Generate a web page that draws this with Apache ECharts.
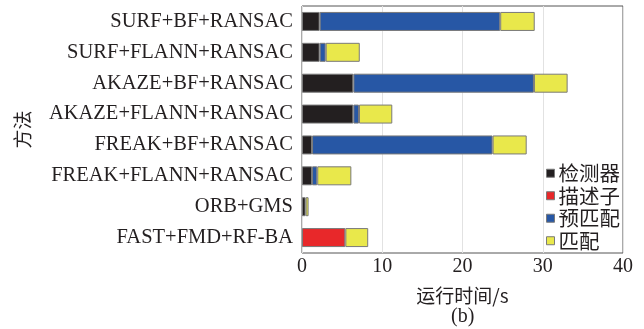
<!DOCTYPE html>
<html>
<head>
<meta charset="utf-8">
<script src="https://cdn.jsdelivr.net/npm/echarts@6/dist/echarts.min.js"></script>
<style>
html,body{margin:0;padding:0;background:#fff;}
#chart{width:644px;height:329px;}
</style>
</head>
<body>
<div id="chart"></div>
<script>
// Methods, top to bottom
const methods = [
  'SURF+BF+RANSAC',
  'SURF+FLANN+RANSAC',
  'AKAZE+BF+RANSAC',
  'AKAZE+FLANN+RANSAC',
  'FREAK+BF+RANSAC',
  'FREAK+FLANN+RANSAC',
  'ORB+GMS',
  'FAST+FMD+RF-BA'
];
// Stage run times (s)
const detector   = [2.2, 2.2, 6.4, 6.4, 1.25, 1.25, 0.45, 0];
const descriptor = [0, 0, 0, 0, 0, 0, 0, 5.4];
const prematch   = [22.5, 0.75, 22.5, 0.7, 22.5, 0.65, 0, 0];
const matching   = [4.3, 4.25, 4.2, 4.15, 4.25, 4.25, 0.37, 2.85];

const seriesNames = ['检测器', '描述子', '预匹配', '匹配'];
const seriesColors = ['#231f20', '#e8282a', '#2757a5', '#e9e84b'];
const xTicks = [0, 10, 20, 30, 40];

const serif = '"Liberation Serif", "Times New Roman", serif';
const cjk = '"Noto Sans CJK SC", sans-serif';
const textColor = '#231f20';

const chart = echarts.init(document.getElementById('chart'));
const stageData = [detector, descriptor, prematch, matching];

chart.setOption({
  animation: false,
  grid: {
    left: 302, right: 21, top: 6, bottom: 76,
    show: true, borderColor: '#555', borderWidth: 1, backgroundColor: 'transparent'
  },
  legend: {
    orient: 'vertical',
    left: 541, top: 158,
    itemWidth: 8, itemHeight: 8, itemGap: 2,
    icon: 'rect',
    data: seriesNames,
    itemStyle: { borderColor: '#7a7a7a', borderWidth: 1 },
    textStyle: { fontFamily: cjk, fontSize: 20.5, color: textColor, padding: [0, 0, 0, -1] }
  },
  xAxis: {
    type: 'value',
    min: xTicks[0], max: xTicks[xTicks.length - 1], interval: 10,
    name: '运行时间/s',
    nameLocation: 'middle', nameGap: 33,
    nameTextStyle: { fontFamily: cjk, fontSize: 19, color: textColor },
    axisLine: { show: false },
    axisTick: { show: false },
    axisLabel: { fontFamily: serif, fontSize: 20, color: textColor, margin: 4 },
    splitLine: { show: true, lineStyle: { color: '#e2e2e2', width: 1 } }
  },
  yAxis: {
    type: 'category',
    data: methods,
    inverse: true,
    name: '方法',
    nameLocation: 'middle', nameGap: 270, nameRotate: 90,
    nameTextStyle: { fontFamily: cjk, fontSize: 19, color: textColor },
    axisLine: { show: false },
    axisTick: { show: false },
    axisLabel: { fontFamily: serif, fontSize: 20.5, color: textColor, margin: 9 }
  },
  series: seriesNames.map((name, i) => ({
    name: name,
    type: 'bar',
    stack: 'total',
    barWidth: 19,
    data: stageData[i].map(v => (v === 0 ? null : v)),
    itemStyle: { color: seriesColors[i], borderColor: '#7a7a7a', borderWidth: 1 }
  })),
  graphic: [{
    type: 'text',
    left: 462 - 11, top: 307,
    style: { text: '(b)', font: '20px ' + serif, fill: textColor }
  }]
});
</script>
</body>
</html>
